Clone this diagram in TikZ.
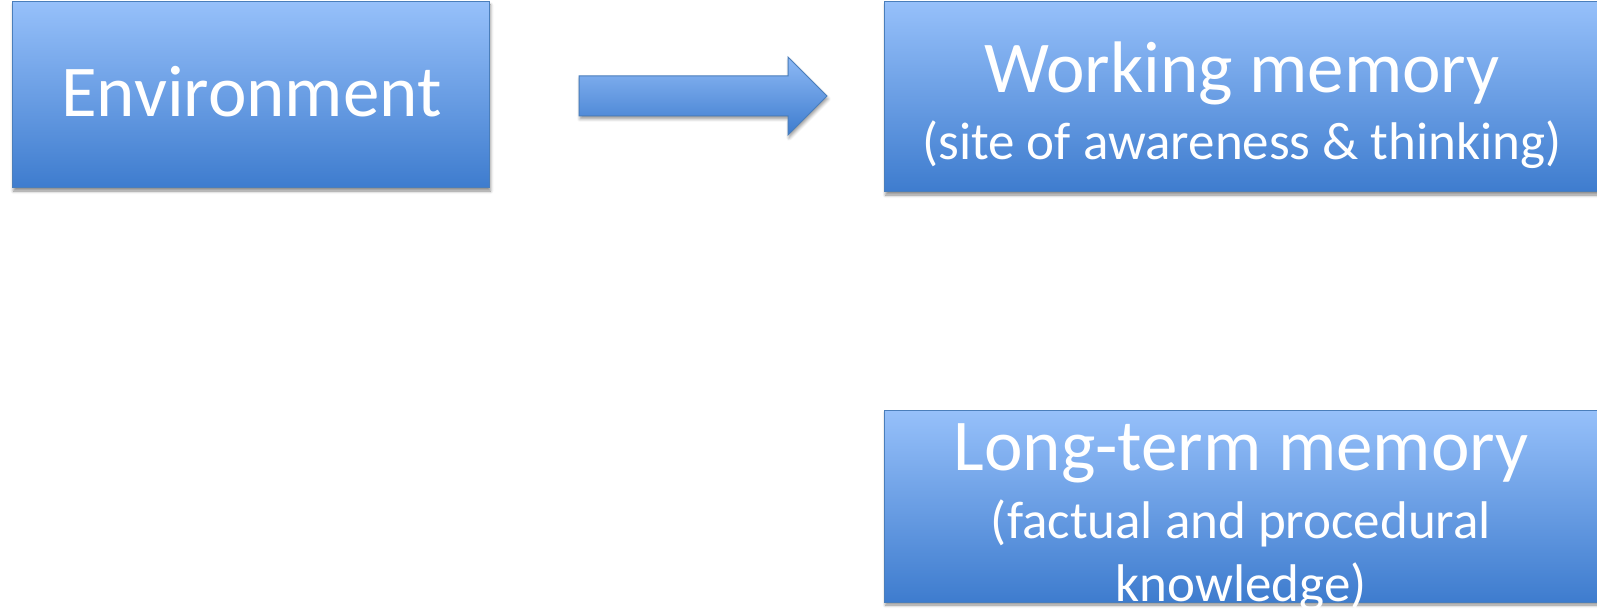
\documentclass[tikz,border=0pt]{standalone}
\usepackage{fontspec}
\setmainfont{Carlito}
\usetikzlibrary{shadows.blur}
\definecolor{boxtop}{RGB}{150,192,250}
\definecolor{boxbot}{RGB}{62,124,206}
\definecolor{boxline}{RGB}{74,126,187}
\tikzset{
  box/.style={rectangle, draw=boxline, line width=1pt, top color=boxtop, bottom color=boxbot, inner sep=0pt,
    blur shadow={shadow xshift=1.5pt, shadow yshift=-3pt, shadow blur radius=3pt, shadow opacity=45}},
  titletext/.style={text=white, anchor=base, inner sep=0pt, font=\fontsize{73}{80}\selectfont},
  subtext/.style={text=white, anchor=base, inner sep=0pt, font=\fontsize{53}{60}\selectfont},
  blockarrow/.style={draw=boxline, line width=1pt, top color=boxtop!90!boxbot, bottom color=boxbot, line join=miter,
    blur shadow={shadow xshift=1pt, shadow yshift=-3pt, shadow blur radius=3pt, shadow opacity=40}}
}
\begin{document}
\begin{tikzpicture}[x=1pt,y=-1pt]
\useasboundingbox (0,0) rectangle (1597,612);
\clip (0,0) rectangle (1597,612);
% boxes
\node[box, minimum width=477pt, minimum height=186pt] (env) at (250.5,95) {};
\node[box, minimum width=716pt, minimum height=190pt] (wm) at (1242,97) {};
\node[box, minimum width=716pt, minimum height=192pt] (ltm) at (1242,506) {};
% arrow
\path[blockarrow] (579,76) -- (788,76) -- (788,57) -- (827,96) -- (788,135) -- (788,116) -- (579,116) -- cycle;
% texts
\node[titletext] (envt) at (251.5,117) {Environment};
\node[titletext] (wmt) at (1242,93) {Working memory};
\node[subtext] (wms) at (1242,160) {(site of awareness \& thinking)};
\node[titletext] (ltmt) at (1241,470) {Long-term memory};
\node[subtext] (ltms1) at (1241,538) {(factual and procedural};
\node[subtext] (ltms2) at (1241,601) {knowledge)};
\end{tikzpicture}
\end{document}
